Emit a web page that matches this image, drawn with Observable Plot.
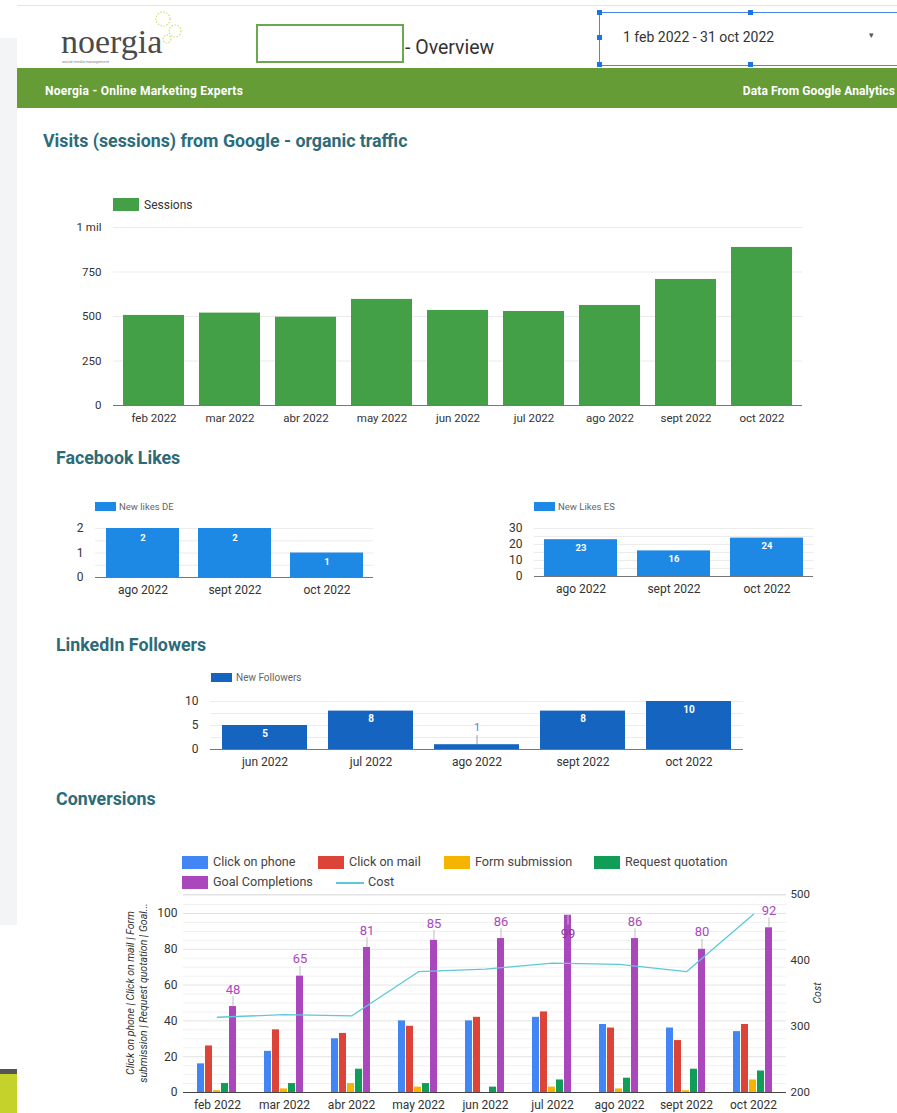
<!DOCTYPE html>
<html>
<head>
<meta charset="utf-8">
<script src="https://cdn.jsdelivr.net/npm/d3@7"></script>
<script src="https://cdn.jsdelivr.net/npm/@observablehq/plot@0.6"></script>
<style>
  html, body { margin: 0; padding: 0; }
  body { width: 897px; height: 1113px; position: relative; overflow: hidden; background: #fff; font-family: Roboto, "Noto Sans", sans-serif; color: #333; }
  .a { position: absolute; }
  .title { position: absolute; font-weight: bold; font-size: 17.8px; color: #2d6b79; white-space: nowrap; line-height: 1; }
  .lg { position: absolute; white-space: nowrap; line-height: 1; }
  .sw { position: absolute; }
  .handle { position: absolute; width: 5px; height: 5px; background: #1a73e8; }
</style>
</head>
<body>
<!-- page chrome -->
<div class="a" style="left:17px;top:5px;width:880px;height:1px;background:#e4e4e4"></div>
<div class="a" style="left:0;top:38px;width:17px;height:887px;background:#f3f4f5"></div>
<div class="a" style="left:0;top:1069px;width:17px;height:5px;background:#555"></div>
<div class="a" style="left:0;top:1074px;width:17px;height:39px;background:#c5d22b"></div>

<!-- logo -->
<svg class="a" style="left:150px;top:6px" width="40" height="44">
  <circle cx="13" cy="13" r="7" fill="none" stroke="#d3dc6c" stroke-width="1.2" stroke-dasharray="1.5 1.5"/>
  <circle cx="25" cy="25" r="6" fill="none" stroke="#d3dc6c" stroke-width="1.2" stroke-dasharray="1.5 1.5"/>
  <circle cx="17" cy="33" r="4" fill="none" stroke="#d3dc6c" stroke-width="1.2" stroke-dasharray="1.5 1.5"/>
</svg>
<div class="a" style="left:61px;top:25px;font-family:'Liberation Serif','DejaVu Serif',serif;font-size:34px;color:#4a4a4a;line-height:1">noergia</div>
<div class="a" style="left:62px;top:60px;font-size:4px;color:#888;line-height:1">social media management</div>

<div class="a" style="left:256px;top:24px;width:144px;height:35px;border:2px solid #6aa84f"></div>
<div class="a" style="left:405px;top:38px;font-size:19.5px;color:#333;line-height:1;white-space:nowrap">- Overview</div>

<div class="a" style="left:599px;top:12px;width:300px;height:52px;border:1px solid #4a86e8"></div>
<div class="handle" style="left:597px;top:10px"></div>
<div class="handle" style="left:748px;top:10px"></div>
<div class="handle" style="left:597px;top:35px"></div>
<div class="handle" style="left:597px;top:62px"></div>
<div class="handle" style="left:748px;top:62px"></div>
<div class="a" style="left:623px;top:30px;font-size:14px;color:#333;line-height:1;white-space:nowrap">1 feb 2022 - 31 oct 2022</div>
<div class="a" style="left:869px;top:31px;font-size:9px;color:#555;line-height:1">&#9662;</div>

<div class="a" style="left:17px;top:68px;width:880px;height:40px;background:#669c35"></div>
<div class="a" style="left:45px;top:85px;font-size:12px;font-weight:bold;color:#fff;line-height:1;white-space:nowrap;letter-spacing:0.25px">Noergia - Online Marketing Experts</div>
<div class="a" style="right:2px;top:85px;font-size:12px;font-weight:bold;color:#fff;line-height:1;white-space:nowrap;letter-spacing:0.1px">Data From Google Analytics</div>

<!-- section titles -->
<div class="title" style="left:43px;top:132px">Visits (sessions) from Google - organic traffic</div>
<div class="title" style="left:56px;top:449px">Facebook Likes</div>
<div class="title" style="left:56px;top:636px">LinkedIn Followers</div>
<div class="title" style="left:56px;top:790px">Conversions</div>

<!-- legends -->
<div class="sw" style="left:113px;top:198px;width:26px;height:13px;background:#43a047"></div>
<div class="lg" style="left:144px;top:199px;font-size:12px;color:#333">Sessions</div>

<div class="sw" style="left:95px;top:502px;width:21px;height:9px;background:#1e88e5"></div>
<div class="lg" style="left:119px;top:502px;font-size:9.5px;color:#666">New likes DE</div>

<div class="sw" style="left:534px;top:502px;width:21px;height:9px;background:#1e88e5"></div>
<div class="lg" style="left:558px;top:502px;font-size:9.5px;color:#666">New Likes ES</div>

<div class="sw" style="left:211px;top:673px;width:21px;height:9px;background:#1565c0"></div>
<div class="lg" style="left:236px;top:673px;font-size:10px;color:#666">New Followers</div>

<div id="convLegend"></div>

<div class="a" style="left:37px;top:893px;width:200px;height:26px;transform-origin:100px 13px;transform:translate(0px,87px) rotate(-90deg);font-size:10.5px;font-style:italic;color:#333;line-height:13px;text-align:center;white-space:nowrap">Click on phone | Click on mail | Form<br>submission | Request quotation | Goal...</div>
<div class="a" style="left:798px;top:987px;width:40px;height:12px;transform-origin:20px 6px;transform:rotate(-90deg);font-size:10.5px;font-style:italic;color:#333;line-height:12px;text-align:center">Cost</div>

<script>
// ---------- data ----------
const months = ["feb 2022", "mar 2022", "abr 2022", "may 2022", "jun 2022", "jul 2022", "ago 2022", "sept 2022", "oct 2022"];
const sessions = [506, 519, 496, 596, 534, 528, 562, 708, 888];
const sessionTicks = [0, 250, 500, 750, 1000];

const fbMonths = ["ago 2022", "sept 2022", "oct 2022"];
const likesDE = [2, 2, 1];
const likesES = [23, 16, 24];

const liMonths = ["jun 2022", "jul 2022", "ago 2022", "sept 2022", "oct 2022"];
const followers = [5, 8, 1, 8, 10];

const seriesNames = ["Click on phone", "Click on mail", "Form submission", "Request quotation", "Goal Completions"];
const seriesColors = ["#4285f4", "#db4437", "#f4b400", "#0f9d58", "#ab47bc"];
const clickPhone = [16, 23, 30, 40, 40, 42, 38, 36, 34];
const clickMail = [26, 35, 33, 37, 42, 45, 36, 29, 38];
const formSubmission = [1, 2, 5, 3, 0, 3, 2, 1, 7];
const requestQuotation = [5, 5, 13, 5, 3, 7, 8, 13, 12];
const goalCompletions = [48, 65, 81, 85, 86, 99, 86, 80, 92];
const cost = [314, 318, 316, 383, 387, 396, 394, 383, 470];
const costColor = "#5ec8d8";

// ---------- helpers ----------
const base = {background: "transparent", fontFamily: "Roboto, sans-serif", color: "#333", overflow: "visible"};
function place(el, left, top) {
  el.style.position = "absolute";
  el.style.left = left + "px";
  el.style.top = top + "px";
  el.style.maxWidth = "none";
  document.body.appendChild(el);
}

// ---------- Sessions ----------
const sessData = months.map((m, i) => ({month: m, value: sessions[i]}));
place(Plot.plot({
  width: 790, height: 215,
  marginLeft: 83, marginRight: 18, marginTop: 12, marginBottom: 25,
  style: {...base, fontSize: "11.5px"},
  x: {domain: months, paddingInner: 0.2, paddingOuter: 0.1, tickSize: 0, tickPadding: 8, label: null},
  y: {domain: [0, 1000], ticks: sessionTicks, tickFormat: d => d === 1000 ? "1 mil" : String(d), tickSize: 0, tickPadding: 12, label: null},
  marks: [
    Plot.ruleY(sessionTicks.slice(1), {stroke: "#ebebeb"}),
    Plot.barY(sessData, {x: "month", y: "value", fill: "#43a047"}),
    Plot.ruleY([0], {stroke: "#777"})
  ]
}), 30, 215);

// ---------- Facebook DE ----------
const deData = fbMonths.map((m, i) => ({month: m, value: likesDE[i]}));
place(Plot.plot({
  width: 350, height: 85,
  marginLeft: 55, marginRight: 17, marginTop: 10, marginBottom: 26,
  style: {...base, fontSize: "12px"},
  x: {domain: fbMonths, paddingInner: 0.21, paddingOuter: 0.105, tickSize: 0, tickPadding: 8, label: null},
  y: {domain: [0, 2], ticks: [0, 1, 2], tickFormat: "d", tickSize: 0, tickPadding: 12, label: null},
  marks: [
    Plot.ruleY([0.5, 1, 1.5, 2], {stroke: "#ececec"}),
    Plot.barY(deData, {x: "month", y: "value", fill: "#1e88e5"}),
    Plot.text(deData, {x: "month", y: "value", text: "value", dy: 9, fill: "white", fontWeight: "bold", fontSize: 9.5}),
    Plot.ruleY([0], {stroke: "#777"})
  ]
}), 40, 518);

// ---------- Facebook ES ----------
const esData = fbMonths.map((m, i) => ({month: m, value: likesES[i]}));
place(Plot.plot({
  width: 350, height: 85,
  marginLeft: 54, marginRight: 17, marginTop: 10, marginBottom: 27,
  style: {...base, fontSize: "12px"},
  x: {domain: fbMonths, paddingInner: 0.21, paddingOuter: 0.105, tickSize: 0, tickPadding: 8, label: null},
  y: {domain: [0, 30], ticks: [0, 10, 20, 30], tickSize: 0, tickPadding: 12, label: null},
  marks: [
    Plot.ruleY([5, 10, 15, 20, 25, 30], {stroke: "#ececec"}),
    Plot.barY(esData, {x: "month", y: "value", fill: "#1e88e5"}),
    Plot.text(esData, {x: "month", y: "value", text: "value", dy: 8, fill: "white", fontWeight: "bold", fontSize: 9.5}),
    Plot.ruleY([0], {stroke: "#777"})
  ]
}), 480, 518);

// ---------- LinkedIn ----------
const liData = liMonths.map((m, i) => ({month: m, value: followers[i]}));
place(Plot.plot({
  width: 610, height: 85,
  marginLeft: 60, marginRight: 17, marginTop: 11, marginBottom: 26,
  style: {...base, fontSize: "12px"},
  x: {domain: liMonths, paddingInner: 0.2, paddingOuter: 0.1, tickSize: 0, tickPadding: 8, label: null},
  y: {domain: [0, 10], ticks: [0, 5, 10], tickSize: 0, tickPadding: 12, label: null},
  marks: [
    Plot.ruleY([2.5, 5, 7.5, 10], {stroke: "#ececec"}),
    Plot.barY(liData, {x: "month", y: "value", fill: "#1565c0"}),
    Plot.text(liData, {filter: d => d.value >= 3, x: "month", y: "value", text: "value", dy: 8, fill: "white", fontWeight: "bold", fontSize: 10}),
    Plot.ruleX(liData, {filter: d => d.value < 3, x: "month", y1: "value", y2: d => d.value + 1.9, stroke: "#9e9e9e"}),
    Plot.text(liData, {filter: d => d.value < 3, x: "month", y: "value", text: "value", dy: -17, fill: "#4a86d8", fontSize: 11}),
    Plot.ruleY([0], {stroke: "#777"})
  ]
}), 150, 690);

// ---------- Conversions ----------
const convSeries = [clickPhone, clickMail, formSubmission, requestQuotation, goalCompletions];
const convData = months.flatMap((m, i) => seriesNames.map((s, j) => ({month: m, series: s, value: convSeries[j][i]})));
const costData = months.map((m, i) => ({month: m, cost: cost[i]}));
const conv = {width: 740, height: 229, marginLeft: 83, marginRight: 54, marginTop: 10, marginBottom: 21};
const convX = {domain: months, paddingInner: 0.36, paddingOuter: 0.18};
const leftMax = 110.6;

// layer 1: grid and left axis, month labels
place(Plot.plot({
  ...conv,
  style: {...base, fontSize: "12px"},
  x: {...convX, tickSize: 0, tickPadding: 8, label: null},
  y: {domain: [0, leftMax], ticks: [0, 20, 40, 60, 80, 100], tickSize: 0, tickPadding: 6, label: null},
  marks: [
    Plot.ruleY([5, 10, 15, 25, 30, 35, 45, 50, 55, 65, 70, 75, 85, 90, 95, 105, 110], {stroke: "#f1f1f1"}),
    Plot.ruleY([20, 40, 60, 80, 100, leftMax], {stroke: "#e3e3e3"})
  ]
}), 100, 884);

// layer 2: grouped bars (faceted by month) and goal labels
const isGoal = d => d.series === "Goal Completions";
place(Plot.plot({
  ...conv,
  style: {...base, fontSize: "11px"},
  facet: {data: convData, x: "month"},
  fx: {...convX, axis: null, label: null},
  x: {domain: seriesNames, paddingInner: 0.1, paddingOuter: 0.02, axis: null},
  y: {domain: [0, leftMax], axis: null},
  color: {domain: seriesNames, range: seriesColors},
  marks: [
    Plot.barY(convData, {x: "series", y: "value", fill: "series"}),
    Plot.ruleX(convData, {filter: isGoal, x: "series", y1: "value", y2: d => d.value > 95 ? d.value - 5.5 : d.value + 5.5, stroke: "#bdbdbd"}),
    Plot.text(convData, {filter: d => isGoal(d) && d.value <= 95, x: "series", y: "value", text: "value", dy: -17, fill: "#ab47bc", fontSize: 13}),
    Plot.text(convData, {filter: d => isGoal(d) && d.value > 95, x: "series", y: "value", text: "value", dy: 19, fill: "#8e3aa0", fontSize: 13})
  ]
}), 100, 884);

// layer 3: cost line with right axis and baseline
place(Plot.plot({
  ...conv,
  style: {...base, fontSize: "11.5px"},
  x: {...convX, axis: null},
  y: {domain: [200, 500], axis: "right", ticks: [200, 300, 400, 500], tickSize: 0, tickPadding: 4, label: null},
  marks: [
    Plot.line(costData, {x: "month", y: "cost", stroke: costColor, strokeWidth: 1.3}),
    Plot.ruleY([200], {stroke: "#444"})
  ]
}), 100, 884);

// conversions legend (HTML)
const legendItems = [
  {label: seriesNames[0], color: seriesColors[0], x: 182, y: 856},
  {label: seriesNames[1], color: seriesColors[1], x: 318, y: 856},
  {label: seriesNames[2], color: seriesColors[2], x: 444, y: 856},
  {label: seriesNames[3], color: seriesColors[3], x: 594, y: 856},
  {label: seriesNames[4], color: seriesColors[4], x: 182, y: 876}
];
const lg = document.getElementById("convLegend");
for (const it of legendItems) {
  const sw = document.createElement("div");
  sw.className = "sw";
  Object.assign(sw.style, {left: it.x + "px", top: it.y + "px", width: "26px", height: "13px", background: it.color});
  lg.appendChild(sw);
  const t = document.createElement("div");
  t.className = "lg";
  Object.assign(t.style, {left: (it.x + 31) + "px", top: it.y + "px", fontSize: "12.6px", color: "#444"});
  t.textContent = it.label;
  lg.appendChild(t);
}
const cl = document.createElement("div");
cl.className = "sw";
Object.assign(cl.style, {left: "336px", top: "882px", width: "28px", height: "1.5px", background: costColor});
lg.appendChild(cl);
const ct = document.createElement("div");
ct.className = "lg";
Object.assign(ct.style, {left: "368px", top: "876px", fontSize: "12.6px", color: "#444"});
ct.textContent = "Cost";
lg.appendChild(ct);
</script>
</body>
</html>
